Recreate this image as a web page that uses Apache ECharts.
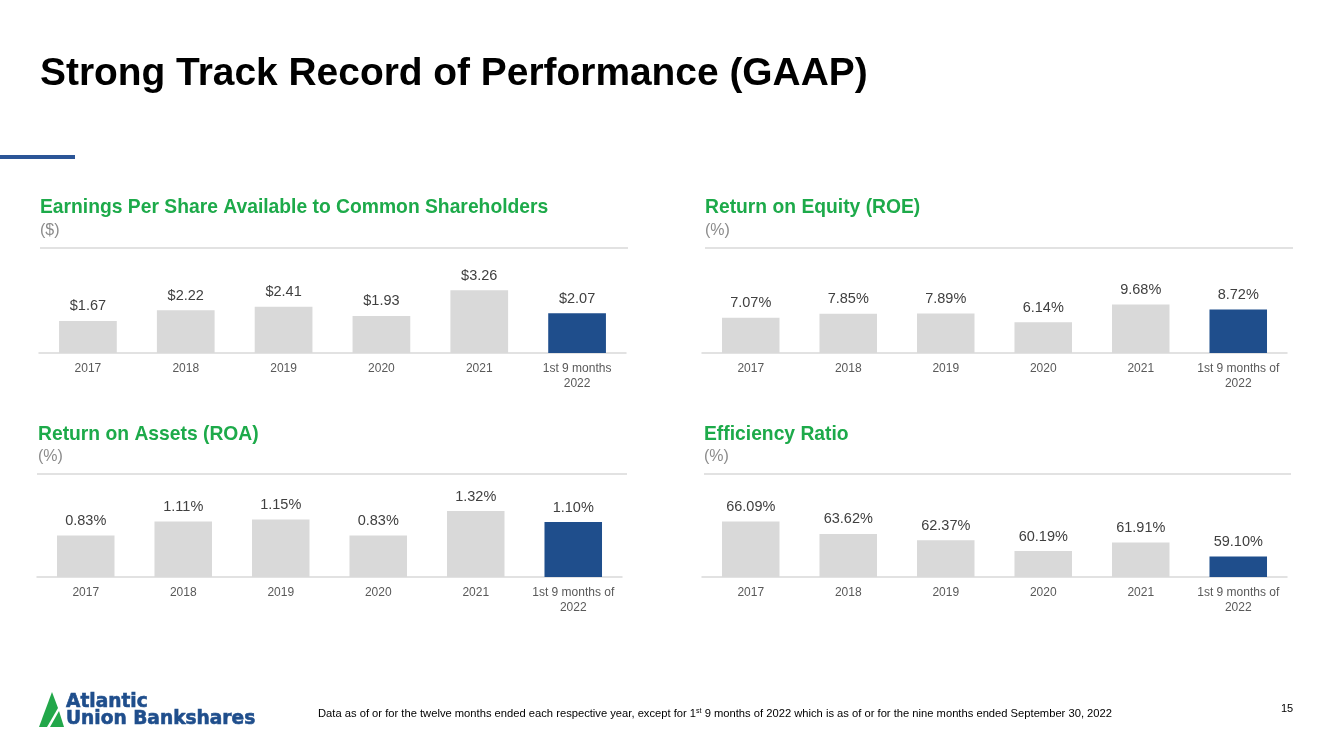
<!DOCTYPE html>
<html>
<head>
<meta charset="utf-8">
<script src="https://cdn.jsdelivr.net/npm/echarts@6/dist/echarts.min.js"></script>
<style>
html,body{margin:0;padding:0;background:#fff;}
#c{width:1333px;height:749px;}
</style>
</head>
<body>
<div id="c"></div>
<script>
const categoriesEPS = ['2017', '2018', '2019', '2020', '2021', '1st 9 months\n2022'];
const categoriesPct = ['2017', '2018', '2019', '2020', '2021', '1st 9 months of\n2022'];
const epsValues = [1.67, 2.22, 2.41, 1.93, 3.26, 2.07];
const roeValues = [7.07, 7.85, 7.89, 6.14, 9.68, 8.72];
const roaValues = [0.83, 1.11, 1.15, 0.83, 1.32, 1.10];
const effValues = [66.09, 63.62, 62.37, 60.19, 61.91, 59.10];

const GRAY = '#D9D9D9';
const BLUE = '#1F4E8C';
const GREEN = '#1DAA4A';
const FONT = '"Liberation Sans", Arial, sans-serif';

function barData(vals) {
  return vals.map((v, i) => ({
    value: v,
    itemStyle: { color: i === vals.length - 1 ? BLUE : GRAY }
  }));
}

const grids = [
  { left: 39, top: 253, width: 587, height: 100 },
  { left: 702, top: 253, width: 585, height: 100 },
  { left: 37, top: 477, width: 585, height: 100 },
  { left: 702, top: 477, width: 585, height: 100 }
];
const yRanges = [[0, 5.2], [0, 20], [0, 2], [55, 75]];
const cats = [categoriesEPS, categoriesPct, categoriesPct, categoriesPct];
const vals = [epsValues, roeValues, roaValues, effValues];
const fmts = [
  v => '$' + v.toFixed(2),
  v => v.toFixed(2) + '%',
  v => v.toFixed(2) + '%',
  v => v.toFixed(2) + '%'
];

const chart = echarts.init(document.getElementById('c'), null, { renderer: 'canvas' });

function txt(x, y, text, size, color, weight, extra, family) {
  return {
    type: 'text',
    style: Object.assign({
      x: x, y: y, text: text,
      font: (weight || 'normal') + ' ' + size + 'px ' + (family || FONT),
      fill: color,
      align: 'left',
      verticalAlign: 'middle'
    }, extra || {})
  };
}

const graphic = [
  txt(40, 74, 'Strong Track Record of Performance (GAAP)', 38.9, '#000000', 'bold'),
  { type: 'rect', shape: { x: 0, y: 155, width: 75, height: 4 }, style: { fill: '#2B5597' } },

  txt(40, 208, 'Earnings Per Share Available to Common Shareholders', 19.3, GREEN, 'bold'),
  txt(40, 231, '($)', 16, '#8C8C8C'),
  { type: 'line', shape: { x1: 40, y1: 248, x2: 628, y2: 248 }, style: { stroke: GRAY, lineWidth: 1.5 } },

  txt(705, 208, 'Return on Equity (ROE)', 19.3, GREEN, 'bold'),
  txt(705, 231, '(%)', 16, '#8C8C8C'),
  { type: 'line', shape: { x1: 705, y1: 248, x2: 1293, y2: 248 }, style: { stroke: GRAY, lineWidth: 1.5 } },

  txt(38, 435, 'Return on Assets (ROA)', 19.3, GREEN, 'bold'),
  txt(38, 457, '(%)', 16, '#8C8C8C'),
  { type: 'line', shape: { x1: 37, y1: 474, x2: 627, y2: 474 }, style: { stroke: GRAY, lineWidth: 1.5 } },

  txt(704, 435, 'Efficiency Ratio', 19.3, GREEN, 'bold'),
  txt(704, 457, '(%)', 16, '#8C8C8C'),
  { type: 'line', shape: { x1: 704, y1: 474, x2: 1291, y2: 474 }, style: { stroke: GRAY, lineWidth: 1.5 } },

  // logo
  { type: 'polygon', shape: { points: [[39, 727], [52, 692], [58, 708], [47, 727]] }, style: { fill: '#22A74A' } },
  { type: 'polygon', shape: { points: [[50, 727], [59, 711], [64, 727]] }, style: { fill: '#22A74A' } },
  txt(66, 702, 'Atlantic', 18.6, BLUE, 'bold', { stroke: BLUE, lineWidth: 0.6 }, '"DejaVu Sans", sans-serif'),
  txt(66, 719, 'Union Bankshares', 18.6, BLUE, 'bold', { stroke: BLUE, lineWidth: 0.6 }, '"DejaVu Sans", sans-serif'),

  // footer
  {
    type: 'text',
    style: {
      x: 318, y: 714,
      text: '{n|Data as of or for the twelve months ended each respective year, except for 1}{s|st}{n| 9 months of 2022 which is as of or for the nine months ended September 30, 2022}',
      rich: {
        n: { font: '11.2px ' + FONT, fill: '#000000' },
        s: { font: '7px ' + FONT, fill: '#000000', verticalAlign: 'top', padding: [0, 0, 6, 0] }
      },
      verticalAlign: 'middle'
    }
  },
  txt(1281, 709, '15', 11, '#000000')
];

const option = {
  animation: false,
  backgroundColor: '#ffffff',
  graphic: graphic,
  grid: grids,
  xAxis: grids.map((g, i) => ({
    type: 'category',
    gridIndex: i,
    data: cats[i],
    axisLine: { show: true, lineStyle: { color: GRAY, width: 1.5 } },
    axisTick: { show: false },
    axisLabel: {
      color: '#595959', fontSize: 12, fontFamily: FONT, margin: 8,
      lineHeight: 15, interval: 0
    }
  })),
  yAxis: grids.map((g, i) => ({
    type: 'value',
    gridIndex: i,
    min: yRanges[i][0],
    max: yRanges[i][1],
    show: false,
    splitLine: { show: false }
  })),
  series: vals.map((v, i) => ({
    type: 'bar',
    xAxisIndex: i,
    yAxisIndex: i,
    data: barData(v),
    barWidth: '59%',
    label: {
      show: true,
      position: 'top',
      distance: 7,
      color: '#404040',
      fontSize: 14.5,
      fontFamily: FONT,
      formatter: p => fmts[i](p.value)
    }
  }))
};
chart.setOption(option);
</script>
</body>
</html>
